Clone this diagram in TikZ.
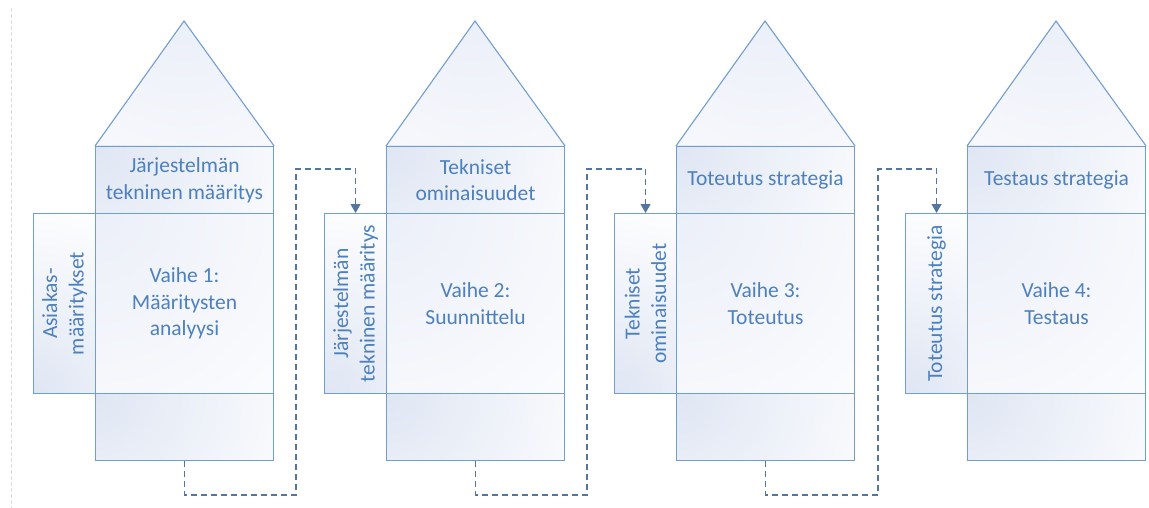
\documentclass[tikz,border=0pt]{standalone}
\usepackage{fontspec}
\setmainfont{Carlito}
\usetikzlibrary{arrows.meta,calc}
\definecolor{linec}{HTML}{729DD1}
\definecolor{textc}{HTML}{4D80BE}
\definecolor{conc}{HTML}{52769F}
\definecolor{shadec}{HTML}{DFE6F3}
\definecolor{shadel}{HTML}{EBEFF8}
\definecolor{framec}{HTML}{DCDCDC}
\tikzset{
  lbl/.style={text=textc, align=center, font=\fontsize{21.5}{26.5}\selectfont, inner sep=0pt},
  box/.style={draw=linec, line width=1.1pt, inner sep=0pt, anchor=north west, minimum width=178pt},
  midbox/.style={box, minimum height=180pt},
  sidebox/.style={box, minimum width=62pt, minimum height=180pt},
  roof/.style={draw=linec, line width=1.1pt},
  glow/.style={inner color=#1, outer color=white},
  conn/.style={draw=conc, line width=1.1pt, dash pattern=on 6pt off 4pt,
    -{Triangle[width=10pt,length=9pt]}}
}
\begin{document}
\begin{tikzpicture}[x=1pt,y=-1pt]
\useasboundingbox (0,0) rectangle (1149,508);
% page edge on the left
\draw[framec, line width=0.8pt, dash pattern=on 4pt off 2pt] (11,8) coordinate (e1) -- (11,508) coordinate (e2);

% soft corner glows inside every box, painted before the outlines
\foreach \x in {95,386,676,967}{
  \begin{scope}
    \clip (\x,146) -- (\x+89,21) -- (\x+178,146) -- cycle;
    \shade[glow=shadel] (\x+89,21) circle (260pt);
  \end{scope}
  \begin{scope}
    \clip (\x,146) rectangle (\x+178,213);
    \shade[glow=shadec] (\x,146) circle (240pt);
  \end{scope}
  \begin{scope}
    \clip (\x,213) rectangle (\x+178,393);
    \shade[glow=shadel] (\x,213) circle (320pt);
  \end{scope}
  \begin{scope}
    \clip (\x,393) rectangle (\x+178,460);
    \shade[glow=shadec] (\x,393) circle (240pt);
  \end{scope}
  \begin{scope}
    \clip (\x-62,213) rectangle (\x,393);
    \shade[glow=shadec] (\x-62,393) circle (200pt);
  \end{scope}
}

% side inputs
\node[sidebox] (s1) at (33,213) {};
\node[sidebox] (s2) at (324,213) {};
\node[sidebox] (s3) at (614,213) {};
\node[sidebox] (s4) at (905,213) {};
\node[lbl, rotate=90] (sl1) at (s1.center) {Asiakas-\\määritykset};
\node[lbl, rotate=90] (sl2) at (s2.center) {Järjestelmän\\tekninen määritys};
\node[lbl, rotate=90] (sl3) at (s3.center) {Tekniset\\ominaisuudet};
\node[lbl, rotate=90] (sl4) at (s4.center) {Toteutus strategia};

% phase columns: roof, output, phase, bottom
\foreach \k/\x in {1/95, 2/386, 3/676, 4/967}{
  \coordinate (r\k) at (\x+89,21);
  \node[box, minimum height=67pt] (t\k) at (\x,146) {};
  \node[midbox] (m\k) at (\x,213) {};
  \node[box, minimum height=67pt] (b\k) at (\x,393) {};
  \draw[roof] (t\k.north west) -- (r\k) -- (t\k.north east);
}

\node[lbl] (tl1) at (t1.center) {Järjestelmän\\tekninen määritys};
\node[lbl] (tl2) at (t2.center) {Tekniset\\ominaisuudet};
\node[lbl] (tl3) at (t3.center) {Toteutus strategia};
\node[lbl] (tl4) at (t4.center) {Testaus strategia};

\node[lbl] (ml1) at (m1.center) {Vaihe 1:\\Määritysten\\analyysi};
\node[lbl] (ml2) at (m2.center) {Vaihe 2:\\Suunnittelu};
\node[lbl] (ml3) at (m3.center) {Vaihe 3:\\Toteutus};
\node[lbl] (ml4) at (m4.center) {Vaihe 4:\\Testaus};

% hand-over paths from one phase to the next
\coordinate (a1) at (296,495); \coordinate (c1) at (296,169);
\coordinate (a2) at (587,495); \coordinate (c2) at (587,169);
\coordinate (a3) at (878,495); \coordinate (c3) at (878,169);
\draw[conn] (b1.south) |- (a1) -- (c1) -| (s2.north);
\draw[conn] (b2.south) |- (a2) -- (c2) -| (s3.north);
\draw[conn] (b3.south) |- (a3) -- (c3) -| (s4.north);
\end{tikzpicture}
\end{document}
